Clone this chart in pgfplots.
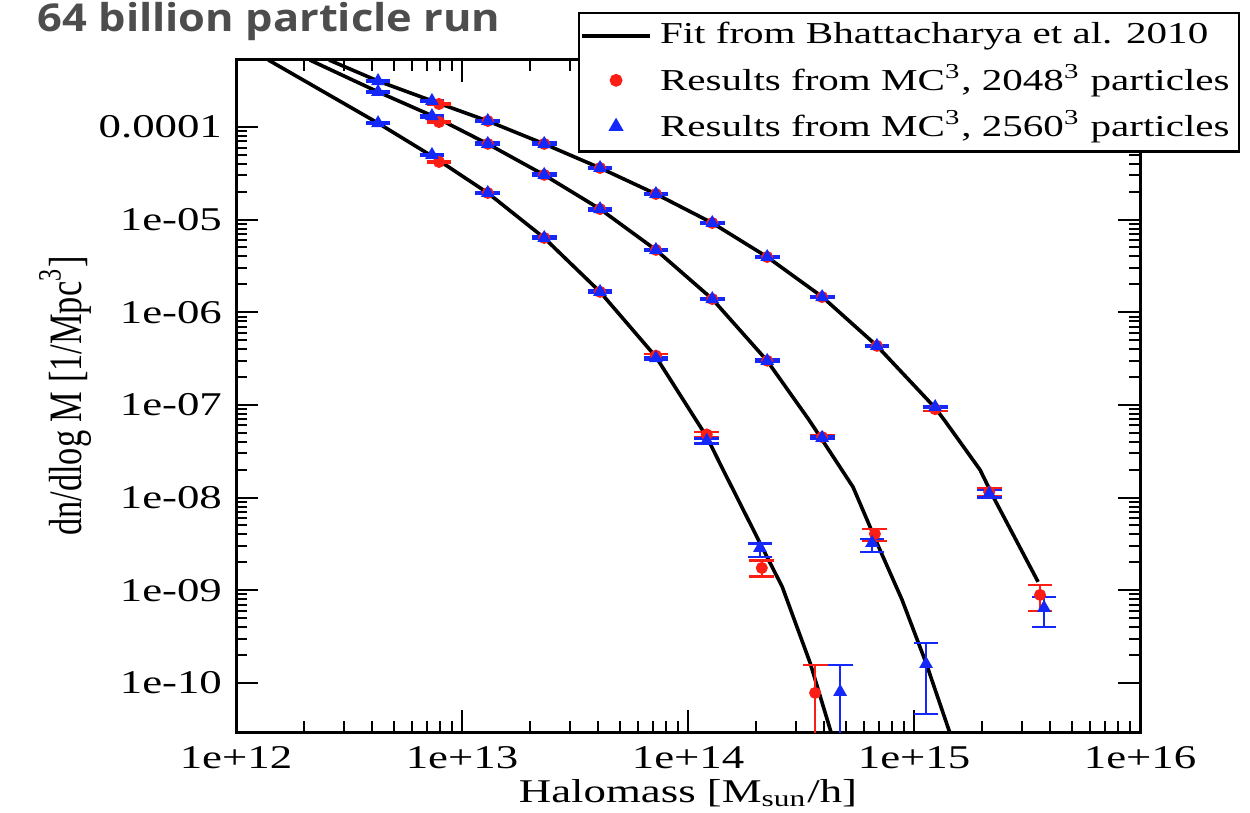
\documentclass[border=0pt]{standalone}
\usepackage{fontspec}
\setmainfont{Liberation Serif}[FakeStretch=1.35]
\newfontfamily\plainserif{Liberation Serif}
\newfontfamily\titlefont{Open Sans}[FakeStretch=1.13]
\usepackage{pgfplots}
\pgfplotsset{compat=1.18}
\usepackage{pgfplotstable}

% fit curves (Bhattacharya et al. 2010)
\pgfplotstableread{
x y
2.58e12 5.28e-4
4.25e12 3.13e-4
7.60e12 1.86e-4
1.30e13 1.16e-4
2.31e13 6.56e-5
4.08e13 3.61e-5
7.21e13 1.89e-5
1.28e14 9.20e-6
2.24e14 3.95e-6
3.92e14 1.47e-6
6.85e14 4.34e-7
1.24e15 9.29e-8
1.36e15 6.89e-8
1.96e15 1.99e-8
2.24e15 1.02e-8
3.54e15 1.23e-9
}\fitA
\pgfplotstableread{
x y
2.12e12 5.28e-4
4.25e12 2.39e-4
7.60e12 1.28e-4
1.30e13 6.56e-5
2.31e13 3.03e-5
4.08e13 1.30e-5
7.21e13 4.71e-6
1.28e14 1.39e-6
2.24e14 2.99e-7
3.43e14 6.89e-8
3.87e14 4.41e-8
5.37e14 1.30e-8
6.85e14 3.24e-9
8.85e14 7.87e-10
1.13e15 1.64e-10
1.44e15 2.89e-11
}\fitB
\pgfplotstableread{
x y
1.39e12 5.28e-4
4.25e12 1.10e-4
7.60e12 4.62e-5
1.30e13 1.94e-5
2.31e13 6.34e-6
4.08e13 1.66e-6
7.21e13 3.30e-7
1.21e14 4.52e-8
1.43e14 1.99e-8
2.08e14 3.24e-9
2.61e14 1.09e-9
3.47e14 1.64e-10
4.30e14 2.89e-11
}\fitC
% MC^3, 2048^3 particles
\pgfplotstableread{
x y ep em
7.91e12 1.77e-4 5e-6 5e-6
1.30e13 1.16e-4 3e-6 3e-6
2.31e13 6.56e-5 2e-6 2e-6
4.08e13 3.61e-5 1e-6 1e-6
7.21e13 1.89e-5 5e-7 5e-7
1.28e14 9.2e-6 2.5e-7 2.5e-7
2.24e14 3.95e-6 1.1e-7 1.1e-7
3.92e14 1.46e-6 4e-8 4e-8
6.85e14 4.34e-7 1.2e-8 1.2e-8
1.24e15 9.0e-8 4e-9 4e-9
2.15e15 1.15e-8 1.2e-9 1.2e-9
3.61e15 8.9e-10 2.5e-10 2.9e-10
7.91e12 1.13e-4 3e-6 3e-6
1.30e13 6.57e-5 2e-6 2e-6
2.31e13 3.04e-5 9e-7 9e-7
4.08e13 1.30e-5 4e-7 4e-7
7.21e13 4.71e-6 1.3e-7 1.3e-7
1.28e14 1.39e-6 4e-8 4e-8
2.24e14 3.0e-7 1e-8 1e-8
3.92e14 4.5e-8 2e-9 2e-9
6.71e14 4.06e-9 5.4e-10 6.6e-10
7.91e12 4.19e-5 1.2e-6 1.2e-6
1.30e13 1.94e-5 6e-7 6e-7
2.31e13 6.34e-6 2e-7 2e-7
4.08e13 1.66e-6 5e-8 5e-8
7.21e13 3.4e-7 1.2e-8 1.2e-8
1.21e14 4.8e-8 3e-9 3e-9
2.12e14 1.74e-9 3.6e-10 3.4e-10
3.65e14 7.8e-11 7.8e-11 7.79e-11
}\red
% MC^3, 2560^3 particles
\pgfplotstableread{
x y ep em
4.25e12 3.13e-4 9e-6 9e-6
7.36e12 1.91e-4 5e-6 5e-6
1.30e13 1.16e-4 3e-6 3e-6
2.31e13 6.57e-5 2e-6 2e-6
4.08e13 3.61e-5 1e-6 1e-6
7.21e13 1.89e-5 5e-7 5e-7
1.28e14 9.2e-6 2.5e-7 2.5e-7
2.24e14 3.95e-6 1.1e-7 1.1e-7
3.92e14 1.46e-6 4e-8 4e-8
6.85e14 4.34e-7 1.2e-8 1.2e-8
1.24e15 9.5e-8 3e-9 3e-9
2.15e15 1.10e-8 1e-9 1e-9
3.76e15 6.46e-10 2.0e-10 2.46e-10
4.25e12 2.39e-4 7e-6 7e-6
7.36e12 1.31e-4 4e-6 4e-6
1.30e13 6.57e-5 2e-6 2e-6
2.31e13 3.04e-5 9e-7 9e-7
4.08e13 1.30e-5 4e-7 4e-7
7.21e13 4.71e-6 1.3e-7 1.3e-7
1.28e14 1.39e-6 4e-8 4e-8
2.24e14 2.99e-7 9e-9 9e-9
3.92e14 4.41e-8 1.5e-9 1.5e-9
6.52e14 3.24e-9 3.4e-10 6.4e-10
1.13e15 1.6e-10 1.1e-10 1.14e-10
4.25e12 1.10e-4 3e-6 3e-6
7.36e12 4.99e-5 1.5e-6 1.5e-6
1.30e13 1.94e-5 6e-7 6e-7
2.31e13 6.34e-6 2e-7 2e-7
4.08e13 1.66e-6 5e-8 5e-8
7.21e13 3.2e-7 1e-8 1e-8
1.21e14 4.1e-8 2.5e-9 2.5e-9
2.08e14 2.86e-9 3.4e-10 5.6e-10
4.71e14 8.0e-11 7.6e-11 7.99e-11
}\blue

\definecolor{ptsred}{RGB}{250,30,20}
\definecolor{ptsblue}{RGB}{20,40,250}
\definecolor{titlegray}{RGB}{77,77,77}

\begin{document}
\begin{tikzpicture}
\begin{axis}[
  at={(0,0)}, anchor=south west,
  scale only axis, width=226pt, height=168pt,
  xmode=log, ymode=log,
  xmin=1e12, xmax=1e16, ymin=2.95e-11, ymax=5.28e-4,
  xtick={1e12,1e13,1e14,1e15,1e16},
  xticklabels={1e+12,1e+13,1e+14,1e+15,1e+16},
  ytick={1e-10,1e-9,1e-8,1e-7,1e-6,1e-5,1e-4},
  yticklabels={1e-10,1e-09,1e-08,1e-07,1e-06,1e-05,0.0001},
  tick align=inside,
  major tick length=5.5pt, minor tick length=2.8pt,
  tick style={black, line width=0.5pt},
  axis line style={line width=0.75pt},
  ticklabel style={font=\fontsize{8.3}{10}\selectfont},
  xlabel={Halomass [M\textsubscript{sun}/h]},
  xlabel style={at={(axis description cs:0.5,0)}, anchor=base, yshift=-17.5pt,
    font=\fontsize{8.3}{10}\selectfont},
  ylabel={\scalebox{1}[1.35]{\plainserif\fontsize{8.6}{10}\selectfont dn/dlog M [1/Mpc\textsuperscript{3}]}},
  ylabel style={at={(axis description cs:-0.189,0.5)}, anchor=center},
  legend cell align=left,
  legend style={at={(axis description cs:1.1106,1.0714)}, anchor=north east,
    draw=black, line width=0.6pt, fill=white,
    font=\fontsize{7.6}{9}\selectfont, row sep=-0.3pt, inner sep=0.3pt},
]
\addplot[black, line width=0.9pt] table[x=x,y=y] {\fitA};
\addlegendentry{Fit from Bhattacharya et al. 2010}
\addplot[black, line width=0.9pt, forget plot] table[x=x,y=y] {\fitB};
\addplot[black, line width=0.9pt, forget plot] table[x=x,y=y] {\fitC};
\addplot[only marks, mark=*, mark size=1.3pt, color=ptsred,
  error bars/.cd, y dir=both, y explicit,
  error bar style={line width=0.5pt, ptsred},
  error mark options={ptsred, rotate=90, mark size=3.1pt, line width=0.6pt}]
  table[x=x,y=y,y error plus=ep,y error minus=em] {\red};
\addlegendentry{Results from MC\textsuperscript{3}, 2048\textsuperscript{3} particles}
\addplot[only marks, mark=triangle*, mark size=1.6pt, color=ptsblue,
  error bars/.cd, y dir=both, y explicit,
  error bar style={line width=0.5pt, ptsblue},
  error mark options={ptsblue, rotate=90, mark size=3.1pt, line width=0.6pt}]
  table[x=x,y=y,y error plus=ep,y error minus=em] {\blue};
\addlegendentry{Results from MC\textsuperscript{3}, 2560\textsuperscript{3} particles}
\end{axis}
\node[anchor=base west, inner sep=0pt, text=titlegray,
  font=\titlefont\bfseries\fontsize{9.6}{10}\selectfont] at (-49.75pt,175pt) {64 billion particle run};
\pgfresetboundingbox
\path (-59pt,-20pt) rectangle (253.5pt,183pt);
\end{tikzpicture}
\end{document}
